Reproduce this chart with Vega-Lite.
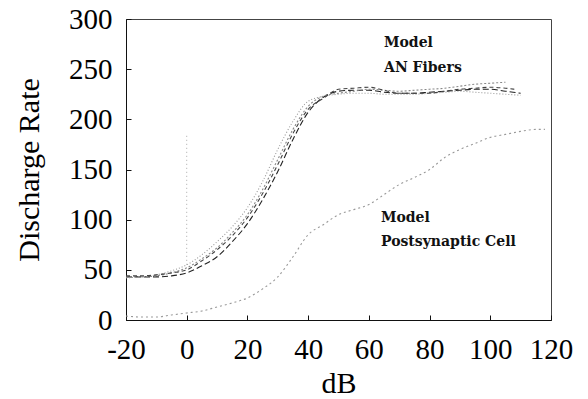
{
  "$schema": "https://vega.github.io/schema/vega-lite/v6.json",
  "width": 425,
  "height": 301,
  "autosize": {"type": "none"},
  "padding": {"left": 126, "top": 19, "right": 37, "bottom": 79},
  "background": "white",
  "config": {
    "view": {"stroke": "#444", "strokeWidth": 1},
    "font": "Liberation Serif",
    "axis": {"grid": false, "domainColor": "#111", "tickColor": "#111", "labelColor": "#000", "titleColor": "#000", "labelFont": "Liberation Serif", "titleFont": "Liberation Serif", "labelFontSize": 29, "titleFontSize": 30, "titleFontWeight": "normal", "labelOverlap": false, "labelBound": false, "labelFlush": false}
  },
  "datasets": {
    "an": [
      {"s":"A","x":-20,"y":43},{"s":"A","x":-15,"y":43},{"s":"A","x":-10,"y":43},{"s":"A","x":-5,"y":44},{"s":"A","x":0,"y":47},{"s":"A","x":5,"y":54},{"s":"A","x":10,"y":63},{"s":"A","x":15,"y":78},{"s":"A","x":20,"y":96},{"s":"A","x":25,"y":120},{"s":"A","x":30,"y":148},{"s":"A","x":35,"y":180},{"s":"A","x":40,"y":207},{"s":"A","x":45,"y":222},{"s":"A","x":50,"y":228},{"s":"A","x":55,"y":229},{"s":"A","x":60,"y":229},{"s":"A","x":65,"y":227},{"s":"A","x":70,"y":226},{"s":"A","x":75,"y":226},{"s":"A","x":80,"y":227},{"s":"A","x":85,"y":228},{"s":"A","x":90,"y":229},{"s":"A","x":95,"y":230},{"s":"A","x":100,"y":230},{"s":"A","x":105,"y":228},{"s":"A","x":110,"y":226},
      {"s":"B","x":-20,"y":43},{"s":"B","x":-15,"y":43},{"s":"B","x":-10,"y":44},{"s":"B","x":-5,"y":47},{"s":"B","x":0,"y":52},{"s":"B","x":5,"y":61},{"s":"B","x":10,"y":72},{"s":"B","x":15,"y":87},{"s":"B","x":20,"y":105},{"s":"B","x":25,"y":130},{"s":"B","x":30,"y":160},{"s":"B","x":35,"y":190},{"s":"B","x":40,"y":213},{"s":"B","x":45,"y":223},{"s":"B","x":50,"y":226},{"s":"B","x":55,"y":228},{"s":"B","x":60,"y":230},{"s":"B","x":65,"y":229},{"s":"B","x":70,"y":228},{"s":"B","x":75,"y":229},{"s":"B","x":80,"y":230},{"s":"B","x":85,"y":231},{"s":"B","x":90,"y":233},{"s":"B","x":95,"y":235},{"s":"B","x":100,"y":236},{"s":"B","x":105,"y":237},
      {"s":"C","x":-20,"y":42},{"s":"C","x":-15,"y":43},{"s":"C","x":-10,"y":45},{"s":"C","x":-5,"y":49},{"s":"C","x":0,"y":55},{"s":"C","x":5,"y":65},{"s":"C","x":10,"y":78},{"s":"C","x":15,"y":93},{"s":"C","x":20,"y":112},{"s":"C","x":25,"y":138},{"s":"C","x":30,"y":170},{"s":"C","x":35,"y":198},{"s":"C","x":40,"y":218},{"s":"C","x":45,"y":223},{"s":"C","x":50,"y":225},{"s":"C","x":55,"y":226},{"s":"C","x":60,"y":226},{"s":"C","x":65,"y":225},{"s":"C","x":70,"y":225},{"s":"C","x":75,"y":225},{"s":"C","x":80,"y":226},{"s":"C","x":85,"y":227},{"s":"C","x":90,"y":228},{"s":"C","x":95,"y":227},{"s":"C","x":100,"y":226},{"s":"C","x":105,"y":225},{"s":"C","x":110,"y":224},
      {"s":"D","x":-20,"y":44},{"s":"D","x":-15,"y":44},{"s":"D","x":-10,"y":45},{"s":"D","x":-5,"y":47},{"s":"D","x":0,"y":50},{"s":"D","x":5,"y":59},{"s":"D","x":10,"y":70},{"s":"D","x":15,"y":84},{"s":"D","x":20,"y":102},{"s":"D","x":25,"y":126},{"s":"D","x":30,"y":155},{"s":"D","x":35,"y":186},{"s":"D","x":40,"y":210},{"s":"D","x":45,"y":221},{"s":"D","x":50,"y":230},{"s":"D","x":55,"y":231},{"s":"D","x":60,"y":232},{"s":"D","x":65,"y":229},{"s":"D","x":70,"y":226},{"s":"D","x":75,"y":226},{"s":"D","x":80,"y":226},{"s":"D","x":85,"y":228},{"s":"D","x":90,"y":230},{"s":"D","x":95,"y":231},{"s":"D","x":100,"y":232},{"s":"D","x":105,"y":231},{"s":"D","x":108,"y":230},
      {"s":"P","x":-20,"y":4},{"s":"P","x":-15,"y":3},{"s":"P","x":-10,"y":3},{"s":"P","x":-5,"y":5},{"s":"P","x":0,"y":7},{"s":"P","x":5,"y":9},{"s":"P","x":10,"y":13},{"s":"P","x":15,"y":17},{"s":"P","x":20,"y":22},{"s":"P","x":25,"y":31},{"s":"P","x":30,"y":43},{"s":"P","x":35,"y":63},{"s":"P","x":40,"y":85},{"s":"P","x":45,"y":95},{"s":"P","x":50,"y":105},{"s":"P","x":55,"y":110},{"s":"P","x":60,"y":115},{"s":"P","x":65,"y":125},{"s":"P","x":70,"y":135},{"s":"P","x":75,"y":142},{"s":"P","x":80,"y":150},{"s":"P","x":85,"y":162},{"s":"P","x":90,"y":170},{"s":"P","x":95,"y":176},{"s":"P","x":100,"y":182},{"s":"P","x":105,"y":185},{"s":"P","x":110,"y":188},{"s":"P","x":115,"y":190},{"s":"P","x":118,"y":190}
    ],
    "labels": [
      {"x":65,"y":276,"t":"Model"},
      {"x":65,"y":251,"t":"AN Fibers"},
      {"x":64,"y":102,"t":"Model"},
      {"x":64,"y":78,"t":"Postsynaptic  Cell"}
    ],
    "vline": [{"x":0,"y":55,"y2":186}]
  },
  "layer": [
    {
      "data": {"name": "vline"},
      "mark": {"type": "rule", "color": "#aaa", "strokeDash": [1, 3], "strokeWidth": 1},
      "encoding": {
        "x": {"field": "x", "type": "quantitative", "scale": {"domain": [-20, 120], "nice": false}, "axis": {"values": [-20,0,20,40,60,80,100,120], "labelExpr": "replace(datum.label, '\u2212', '-')", "tickSize": -5, "labelPadding": 20, "title": "dB", "titlePadding": 4, "domain": true}},
        "y": {"field": "y", "type": "quantitative", "scale": {"domain": [0, 300], "nice": false}, "axis": {"values": [0,50,100,150,200,250,300], "tickSize": -5, "labelPadding": 19, "title": "Discharge Rate", "titlePadding": 24}},
        "y2": {"field": "y2"}
      }
    },
    {
      "data": {"name": "an"},
      "mark": {"type": "line", "interpolate": "monotone", "strokeWidth": 1.1},
      "encoding": {
        "x": {"field": "x", "type": "quantitative"},
        "y": {"field": "y", "type": "quantitative"},
        "detail": {"field": "s"},
        "color": {"field": "s", "type": "nominal", "legend": null, "scale": {"domain": ["A","B","C","D","P"], "range": ["#222","#888","#999","#444","#999"]}},
        "strokeDash": {"field": "s", "type": "nominal", "legend": null, "scale": {"domain": ["A","B","C","D","P"], "range": [[6,3],[2,2],[1,2],[4,3],[2,3]]}}
      }
    },
    {
      "data": {"name": "labels"},
      "mark": {"type": "text", "align": "left", "baseline": "middle", "font": "DejaVu Serif", "fontWeight": "bold", "fontSize": 14, "color": "#111"},
      "encoding": {
        "x": {"field": "x", "type": "quantitative"},
        "y": {"field": "y", "type": "quantitative"},
        "text": {"field": "t"}
      }
    }
  ]
}
